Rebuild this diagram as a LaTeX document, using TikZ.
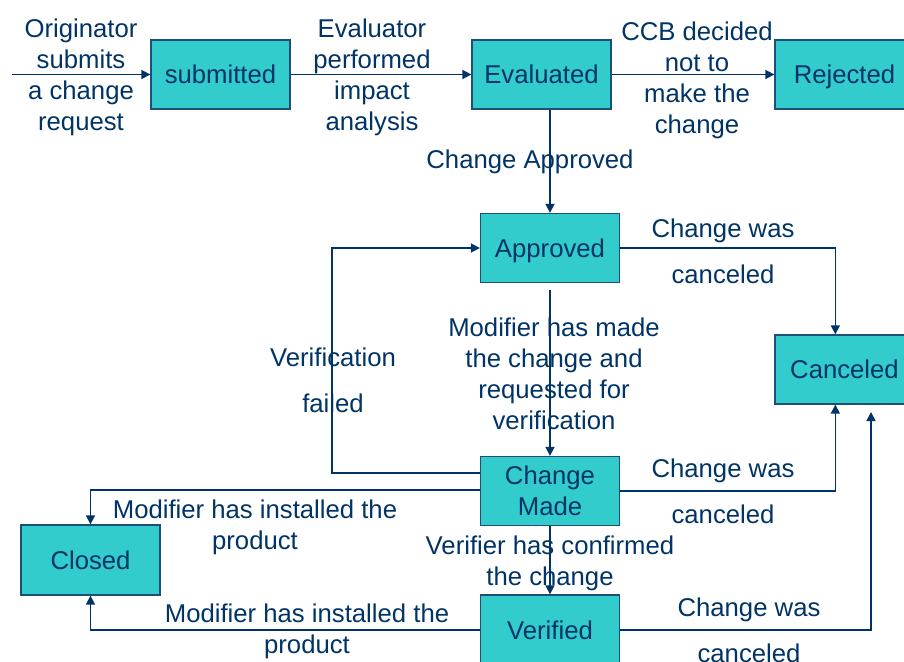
\documentclass[tikz,border=0pt]{standalone}
\usepackage{fontspec}
\setmainfont{Liberation Sans}
\usetikzlibrary{arrows.meta,calc}
\definecolor{navy}{HTML}{003366}
\definecolor{teal}{HTML}{33CCCC}
\definecolor{edgeblue}{HTML}{1F4E79}
\tikzset{
  state/.style={draw=edgeblue, line width=1.3pt, fill=teal, text=navy,
    minimum width=139pt, minimum height=69pt, inner sep=0pt, align=center,
    text height=18.8pt, text depth=0pt,
    font=\fontsize{25.7}{31}\selectfont},
  lbl/.style={text=navy, inner sep=0pt, align=center,
    font=\fontsize{25.7}{31}\selectfont},
  arr/.style={draw=navy, line width=1.6pt, -{Triangle[length=9pt,width=9pt]}},
  ln/.style={draw=navy, line width=1.6pt}
}
\begin{document}
\begin{tikzpicture}[x=1pt,y=-1pt]
\useasboundingbox (0,0) rectangle (904,661);
\clip (0,0) rectangle (904,661);
% states
\node[state] (sub) at (220.5,74.5) {submitted};
\node[state] (eval) at (541.5,74.5) {Evaluated};
\node[state] (rej) at (844.5,74.5) {Rejected};
\node[state] (appr) at (550,248) {Approved};
\node[state] (canc) at (844.5,369.5) {Canceled};
\node[state, text height=, text depth=-4pt] (cm) at (550,491) {Change\\Made};
\node[state, minimum height=70pt] (ver) at (550,630) {Verified};
\node[state, minimum height=70pt] (closed) at (90.5,560) {Closed};
% free ends
\coordinate (in) at (12,74.5);
\coordinate (vc) at (871,412);
% connectors
\draw[arr] (in) -- (sub.west);
\draw[arr] (sub.east) -- (eval.west);
\draw[arr] (eval.east) -- (rej.west);
\draw[arr] (appr.north |- eval.south) -- (appr.north);
\draw[arr] ([yshift=-7pt]appr.south) -- (cm.north);
\draw[arr] (appr.east) -| ([xshift=61pt]canc.north west);
\draw[arr] (cm.east) -| ([xshift=61pt]canc.south west);
\draw[arr] (ver.east) -| (vc);
\draw[arr] ([yshift=18pt]cm.west) -- ++(-148,0) |- (appr.west);
\draw[arr] ([yshift=1pt]cm.west) -| (closed.north);
\draw[arr] (ver.west) -| (closed.south);
\draw[arr] (cm.south) -- (ver.north);
% labels
\node[lbl] (l1) at (81,77) {Originator\\submits\\a change\\request};
\node[lbl] (l2) at (372,77) {Evaluator\\performed\\impact\\analysis};
\node[lbl] (l3) at (697,80) {CCB decided\\not to\\make the\\change};
\node[lbl] (l4) at (530,162) {Change Approved};
\node[lbl] (l5) at (723,251) {Change was\\[15pt]canceled};
\node[lbl] (l6) at (333,380.5) {Verification\\[15pt]failed};
\node[lbl] (l7) at (554,374) {Modifier has made\\the change and\\requested for\\verification};
\node[lbl] (l8) at (723,491.5) {Change was\\[15pt]canceled};
\node[lbl] (l9) at (255,527) {Modifier has installed the\\product};
\node[lbl] (l10) at (550,563) {Verifier has confirmed\\the change};
\node[lbl] (l11) at (307,631) {Modifier has installed the\\product};
\node[lbl] (l12) at (749,630) {Change was\\[15pt]canceled};
\end{tikzpicture}
\end{document}
